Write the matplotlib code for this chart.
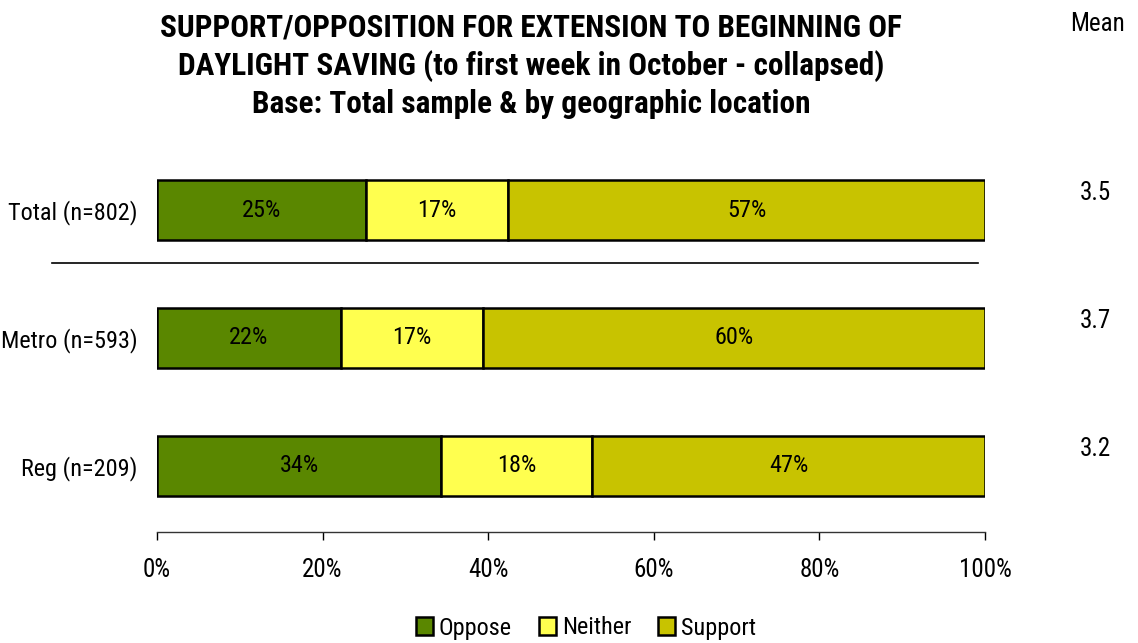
import matplotlib
matplotlib.use('Agg')
import matplotlib.pyplot as plt
import numpy as np

plt.rcParams['font.family'] = ['Arial Narrow', 'Liberation Sans Narrow', 'Roboto Condensed',
                               'PT Sans Narrow', 'Archivo Narrow', 'DejaVu Sans']

groups = ['Total (n=802)', 'Metro (n=593)', 'Reg (n=209)']
series = ['Oppose', 'Neither', 'Support']
oppose = [25, 22, 34]
neither = [17, 17, 18]
support = [57, 60, 47]
means = ['3.5', '3.7', '3.2']
colors = ['#5A8700', '#FFFF4F', '#C8C300']

vals = np.array([oppose, neither, support], dtype=float)
shares = vals / vals.sum(axis=0) * 100

fig = plt.figure(figsize=(11.38, 6.43), dpi=100)
ax = fig.add_axes([157 / 1138, 1 - 532 / 643, 828 / 1138, (532 - 150) / 643])

y = np.arange(len(groups))
left = np.zeros(len(groups))
for i in range(3):
    ax.barh(y, shares[i], left=left, height=60 / 128, color=colors[i],
            edgecolor='black', linewidth=1.8, label=series[i])
    for j in range(len(groups)):
        ax.text(left[j] + shares[i][j] / 2, y[j], '%d%%' % vals[i][j],
                ha='center', va='center', fontsize=17.5)
    left += shares[i]

ax.set_ylim(2.516, -0.469)
ax.set_xlim(0, 100)
ax.set_yticks(y)
ax.set_yticklabels(groups, fontsize=17.5)
ax.tick_params(axis='y', length=0, pad=14)
ax.set_xticks(np.arange(0, 101, 20))
ax.set_xticklabels(['%d%%' % v for v in range(0, 101, 20)], fontsize=18)
ax.tick_params(axis='x', length=6, width=1, pad=13)
for s in ['top', 'right', 'left']:
    ax.spines[s].set_visible(False)
ax.spines['bottom'].set_linewidth(1)
ax.spines['bottom'].set_color('#333333')

# separator between total and sub-groups
ax.plot([-12.7, 99.2], [0.414, 0.414], color='black', lw=1.2, clip_on=False)

for j in range(len(groups)):
    ax.text(1095 / 1138, 1 - (193 + 128 * j) / 643, means[j], transform=fig.transFigure,
            ha='center', va='center', fontsize=18)
fig.text(1098 / 1138, 1 - 24 / 643, 'Mean', ha='center', va='center', fontsize=18)

title = ('SUPPORT/OPPOSITION FOR EXTENSION TO BEGINNING OF\n'
         'DAYLIGHT SAVING (to first week in October - collapsed)\n'
         'Base: Total sample & by geographic location')
fig.text(531 / 1138, 1 - 66 / 643, title, ha='center', va='center', fontsize=22.5,
         fontweight='bold', linespacing=1.3)

fig.legend(loc='center', bbox_to_anchor=(586 / 1138, 1 - 628 / 643), ncol=3,
           frameon=False, fontsize=17.5, handlelength=0.7, handleheight=0.7,
           handletextpad=0.25, columnspacing=1.1)

plt.savefig('out.png', dpi=100)
